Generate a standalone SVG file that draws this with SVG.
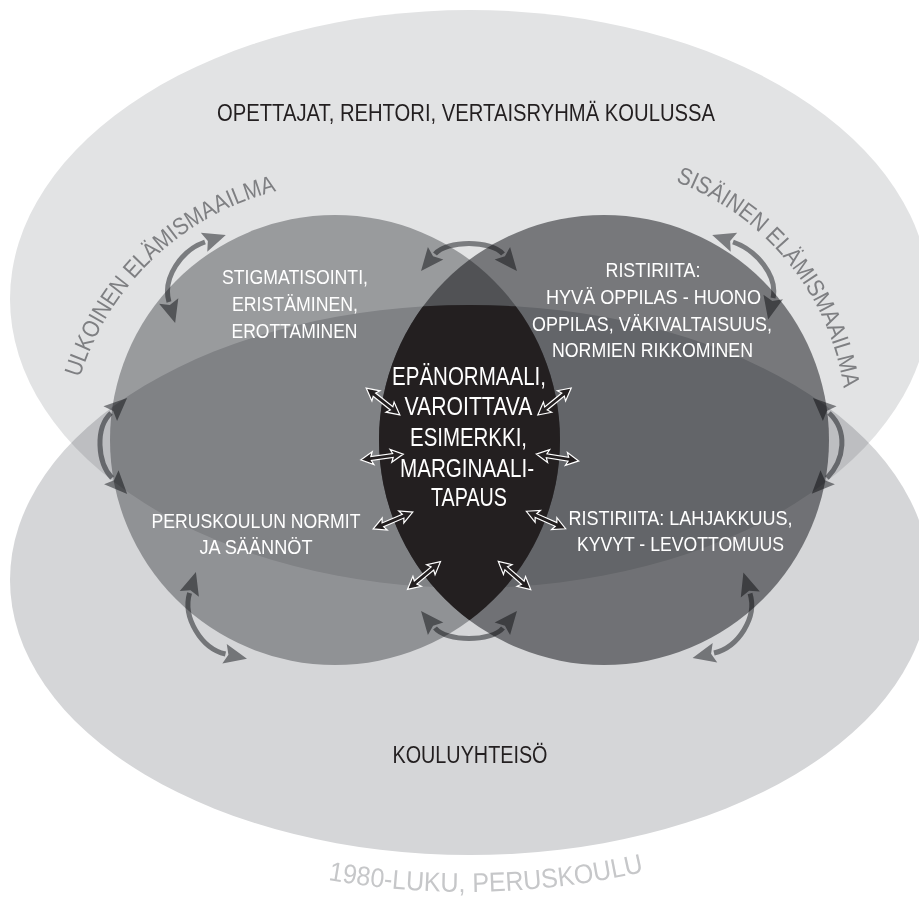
<svg xmlns="http://www.w3.org/2000/svg" xmlns:xlink="http://www.w3.org/1999/xlink" width="919" height="898" viewBox="0 0 919 898">
<style>
.mul{mix-blend-mode:multiply}
text{font-family:"Liberation Sans",Arial,Helvetica,sans-serif}
.dk{fill:#231f20;text-anchor:middle}
.wt{fill:#ffffff;text-anchor:middle;font-size:21px}
.ctr{fill:#ffffff;text-anchor:middle;font-size:25.5px}
.arc{fill:#7e7f82;font-size:24px}
.garr{fill:none;stroke:#8a8b8e;stroke-width:5;marker-start:url(#gh);marker-end:url(#gh)}
.barr{fill:#231f20;stroke:#ffffff;stroke-width:1.2;stroke-linejoin:miter}
</style>
<defs>
<marker id="gh" viewBox="0 -12 24 24" markerWidth="24" markerHeight="24" refX="1" refY="0" orient="auto-start-reverse" markerUnits="userSpaceOnUse" overflow="visible">
<path d="M23,0 L0,-10 L4,0 L0,10 Z" fill="#8a8b8e"/>
</marker>
<path id="da" d="M-21.5,0 L-9,-6.5 L-11,-2 L11,-2 L9,-6.5 L21.5,0 L9,6.5 L11,2 L-11,2 L-9,6.5 Z"/>
<clipPath id="cL"><circle cx="335" cy="440" r="225"/></clipPath>
<clipPath id="cB"><ellipse cx="470" cy="580" rx="460" ry="275"/></clipPath>
<path id="pL" d="M80,377.6 A275,275 0 0 1 276.5,191.2"/>
<path id="pR" d="M675.5,181.7 A264,264 0 0 1 843.7,387.7"/>
<path id="pB" d="M328,880 A800,800 0 0 0 645,871.5"/>
</defs>
<rect width="919" height="898" fill="#ffffff"/>
<g id="ctx-top">
<ellipse class="mul" cx="470" cy="299" rx="460" ry="289" fill="#e2e3e4"/>
<text class="dk" x="466" y="121" font-size="24" textLength="498" lengthAdjust="spacingAndGlyphs">OPETTAJAT, REHTORI, VERTAISRYHMÄ KOULUSSA</text>
</g>
<g id="ctx-bottom">
<ellipse class="mul" cx="470" cy="580" rx="460" ry="275" fill="#d5d6d8"/>
<text class="dk" x="470" y="763" font-size="23" textLength="155" lengthAdjust="spacingAndGlyphs">KOULUYHTEISÖ</text>
<text fill="#c6c7c9" font-size="27"><textPath xlink:href="#pB" href="#pB" textLength="318" lengthAdjust="spacingAndGlyphs">1980-LUKU, PERUSKOULU</textPath></text>
</g>
<g id="circle-left">
<circle class="mul" cx="335" cy="440" r="225" fill="#adaeb0"/>
<text class="arc"><textPath xlink:href="#pL" href="#pL" textLength="283" lengthAdjust="spacingAndGlyphs">ULKOINEN ELÄMISMAAILMA</textPath></text>
<text class="wt" x="295" y="284" textLength="146" lengthAdjust="spacingAndGlyphs">STIGMATISOINTI,</text>
<text class="wt" x="295" y="311" textLength="126" lengthAdjust="spacingAndGlyphs">ERISTÄMINEN,</text>
<text class="wt" x="294.5" y="338" textLength="126" lengthAdjust="spacingAndGlyphs">EROTTAMINEN</text>
<text class="wt" x="256" y="528" textLength="209" lengthAdjust="spacingAndGlyphs">PERUSKOULUN NORMIT</text>
<text class="wt" x="256" y="554" textLength="113" lengthAdjust="spacingAndGlyphs">JA SÄÄNNÖT</text>
</g>
<g id="circle-right">
<circle class="mul" cx="604" cy="440" r="225" fill="#86878a"/>
<text class="arc"><textPath xlink:href="#pR" href="#pR" textLength="279" lengthAdjust="spacingAndGlyphs">SISÄINEN ELÄMISMAAILMA</textPath></text>
<text class="wt" x="653" y="277" textLength="95" lengthAdjust="spacingAndGlyphs">RISTIRIITA:</text>
<text class="wt" x="653.5" y="304" textLength="215" lengthAdjust="spacingAndGlyphs">HYVÄ OPPILAS - HUONO</text>
<text class="wt" x="652" y="331" textLength="240" lengthAdjust="spacingAndGlyphs">OPPILAS, VÄKIVALTAISUUS,</text>
<text class="wt" x="652.5" y="357" textLength="201" lengthAdjust="spacingAndGlyphs">NORMIEN RIKKOMINEN</text>
<text class="wt" x="680.5" y="525" textLength="224" lengthAdjust="spacingAndGlyphs">RISTIRIITA: LAHJAKKUUS,</text>
<text class="wt" x="680.5" y="551" textLength="207" lengthAdjust="spacingAndGlyphs">KYVYT - LEVOTTOMUUS</text>
</g>
<g id="lens">
<g clip-path="url(#cL)"><circle cx="604" cy="440" r="225" fill="#231f20" clip-path="url(#cB)"/></g>
<text class="ctr" x="469" y="385" textLength="154" lengthAdjust="spacingAndGlyphs">EPÄNORMAALI,</text>
<text class="ctr" x="468.5" y="415" textLength="128" lengthAdjust="spacingAndGlyphs">VAROITTAVA</text>
<text class="ctr" x="468.5" y="446" textLength="117" lengthAdjust="spacingAndGlyphs">ESIMERKKI,</text>
<text class="ctr" x="467" y="476.5" textLength="134" lengthAdjust="spacingAndGlyphs">MARGINAALI-</text>
<text class="ctr" x="469" y="506" textLength="76" lengthAdjust="spacingAndGlyphs">TAPAUS</text>
</g>
<g id="connectors">
<g class="mul">
<path class="garr" d="M435,254 C446.5,240 491.5,240 503,254"/>
<path class="garr" d="M435,628 C446.5,642 491.5,642 503,628"/>
<path class="garr" d="M205,242 C181.5,250 162,278 169,302"/>
<path class="garr" d="M733,242 C756.5,250 778,276 773,298"/>
<path class="garr" d="M111,413 C95.2,427.7 97.1,462.4 112,478"/>
<path class="garr" d="M829,413 C848,430.7 845,459.3 827,478"/>
<path class="garr" d="M189.6,593 C182.4,617 201.1,648.5 225.5,654"/>
<path class="garr" d="M750,593.6 C757.5,617.4 738.3,647.3 714,653"/>
</g>
<use class="barr" href="#da" xlink:href="#da" transform="translate(383,401.5) rotate(38.5)"/>
<use class="barr" href="#da" xlink:href="#da" transform="translate(554.5,401.5) rotate(-39)"/>
<use class="barr" href="#da" xlink:href="#da" transform="translate(382,457) rotate(-7.8)"/>
<use class="barr" href="#da" xlink:href="#da" transform="translate(557.5,457.5) rotate(9.2)"/>
<use class="barr" href="#da" xlink:href="#da" transform="translate(393,520.5) rotate(-23)"/>
<use class="barr" href="#da" xlink:href="#da" transform="translate(546,520) rotate(24)"/>
<use class="barr" href="#da" xlink:href="#da" transform="translate(424,575.5) rotate(-40)"/>
<use class="barr" href="#da" xlink:href="#da" transform="translate(514.5,575.5) rotate(41)"/>
</g>
</svg>
